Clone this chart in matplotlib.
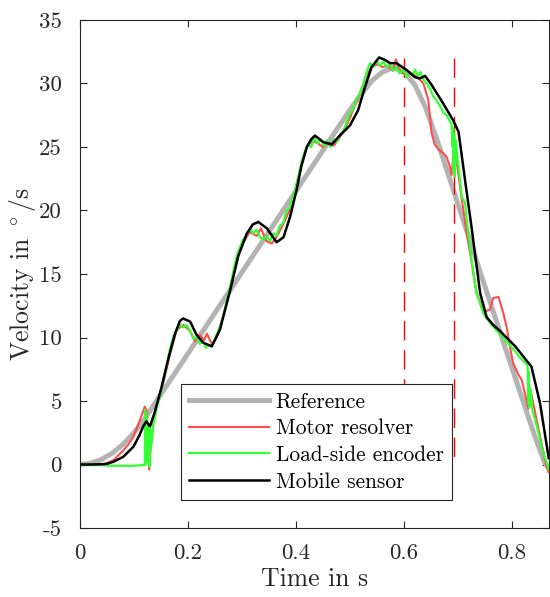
import matplotlib
matplotlib.use('Agg')
import matplotlib.pyplot as plt
from matplotlib.ticker import FuncFormatter, FixedLocator

plt.rcParams['font.family'] = 'serif'
plt.rcParams['font.serif'] = ['cmr10']
plt.rcParams['mathtext.fontset'] = 'cm'
plt.rcParams['axes.unicode_minus'] = False

# Referenz
ref_t = [0, 0.02, 0.04, 0.06, 0.08, 0.10, 0.12, 0.13, 0.14, 0.2, 0.3, 0.4, 0.45, 0.5,
         0.52, 0.54, 0.56, 0.58, 0.60, 0.62, 0.64, 0.66, 0.68, 0.70, 0.75, 0.78, 0.80,
         0.84, 0.86, 0.87]
ref_v = [0, 0.1, 0.4, 0.9, 1.6, 2.5, 3.6, 4.25, 4.9, 8.74, 15.14, 21.54, 24.74, 27.94,
         29.1, 30.2, 30.9, 31.25, 30.9, 29.9, 28.1, 25.7, 23.1, 20.5, 14.0, 10.15, 7.6,
         2.5, 0.2, -0.4]

# Motor-Resolver
mot_t = [0, 0.03, 0.046, 0.062, 0.08, 0.09, 0.099, 0.111, 0.117, 0.120, 0.123, 0.126,
         0.128, 0.130, 0.133, 0.139, 0.146, 0.154, 0.167, 0.179, 0.191, 0.204, 0.213,
         0.222, 0.230, 0.235, 0.244, 0.252, 0.259, 0.275, 0.290, 0.302, 0.315, 0.327,
         0.335, 0.345, 0.355, 0.364, 0.376, 0.389, 0.398, 0.41, 0.42, 0.43, 0.44, 0.45,
         0.46, 0.47, 0.48, 0.49, 0.50, 0.51, 0.52, 0.53, 0.54, 0.55, 0.56, 0.57, 0.58,
         0.585, 0.59, 0.595, 0.605, 0.615, 0.625, 0.636, 0.645, 0.651, 0.657, 0.664,
         0.673, 0.679, 0.685, 0.688, 0.692, 0.697, 0.705, 0.716, 0.725, 0.734, 0.747,
         0.759, 0.765, 0.775, 0.784, 0.790, 0.796, 0.802, 0.812, 0.818, 0.824, 0.830,
         0.833, 0.836, 0.843, 0.852, 0.864, 0.868]
mot_v = [0, 0, 0.05, 0.35, 1.1, 1.6, 2.2, 3.5, 4.2, 4.55, 4.3, 2.0, -0.4, 0.8, 2.2, 4.3,
         5.2, 6.4, 8.75, 10.6, 11.0, 10.5, 9.7, 10.2, 9.8, 10.3, 9.5, 9.9, 10.7, 13.3,
         16.2, 17.5, 18.3, 18.0, 18.6, 17.6, 17.4, 17.9, 18.9, 20.1, 21.5, 23.6, 25.0,
         25.5, 25.3, 25.0, 25.4, 25.1, 25.7, 26.4, 27.3, 28.4, 29.4, 30.6, 31.3, 31.5,
         31.3, 31.4, 31.0, 31.9, 31.2, 30.9, 30.6, 30.8, 30.5, 30.0, 28.7, 26.1, 25.2,
         24.8, 24.5, 24.2, 23.45, 22.8, 24.5, 24.0, 21.5, 18.2, 16.0, 13.6, 12.0, 12.2,
         13.1, 13.2, 11.9, 10.85, 9.3, 8.0, 7.05, 6.65, 5.6, 4.4, 5.1, 5.5, 4.05, 2.2,
         -0.2, -0.6]

# Lastseitiger Encoder
enc_t = [0, 0.02, 0.04, 0.06, 0.08, 0.10, 0.115, 0.120, 0.1205, 0.121, 0.1215, 0.122,
         0.1225, 0.123, 0.124, 0.125, 0.126, 0.127, 0.128, 0.129, 0.130, 0.131, 0.133,
         0.136, 0.139, 0.143, 0.148, 0.154, 0.160, 0.166, 0.173, 0.179, 0.185, 0.191,
         0.197, 0.204, 0.210, 0.216, 0.222, 0.228, 0.233, 0.238, 0.244, 0.250, 0.259,
         0.267, 0.275, 0.283, 0.290, 0.296, 0.302, 0.308, 0.315, 0.321, 0.327, 0.333,
         0.339, 0.345, 0.352, 0.358, 0.364, 0.370, 0.376, 0.382, 0.389, 0.394, 0.398,
         0.404, 0.410, 0.416, 0.422, 0.428, 0.434, 0.440, 0.446, 0.452, 0.458, 0.464,
         0.470, 0.476, 0.482, 0.488, 0.494, 0.500, 0.506, 0.512, 0.518, 0.525, 0.531,
         0.537, 0.543, 0.549, 0.555, 0.562, 0.568, 0.574, 0.580, 0.586, 0.592, 0.599,
         0.605, 0.611, 0.617, 0.620, 0.626, 0.631, 0.636, 0.642, 0.648, 0.654, 0.660,
         0.667, 0.673, 0.679, 0.685, 0.688, 0.690, 0.691, 0.692, 0.693, 0.694, 0.696,
         0.699, 0.701, 0.704, 0.707, 0.713, 0.716, 0.719, 0.725, 0.730, 0.734, 0.740,
         0.747, 0.755, 0.765, 0.775, 0.785, 0.796, 0.806, 0.815, 0.825, 0.829, 0.830,
         0.831, 0.832, 0.834, 0.838, 0.843, 0.849, 0.855, 0.862, 0.868]
enc_v = [0, -0.05, -0.05, -0.1, -0.1, -0.1, -0.05, -0.05, 4.3, 0.3, 3.8, 0.0, 4.0, 0.5,
         3.5, 0.2, 3.0, 0.8, 2.5, -0.2, 2.8, 1.2, 1.9, 3.2, 3.8, 4.6, 5.3, 6.6, 7.7, 9.0,
         10.1, 10.6, 11.0, 10.8, 11.0, 10.5, 9.9, 10.0, 9.5, 9.7, 9.2, 9.4, 9.4, 9.9,
         10.85, 12.0, 13.5, 15.0, 16.4, 17.1, 17.7, 18.0, 18.6, 18.2, 18.5, 17.9, 17.7,
         18.0, 17.6, 18.2, 18.0, 18.8, 19.0, 19.9, 20.3, 21.0, 21.6, 22.6, 23.8, 24.6,
         25.2, 25.0, 25.7, 25.3, 25.6, 25.1, 25.5, 25.0, 25.6, 25.4, 26.0, 26.3, 27.0,
         27.65, 28.0, 28.8, 29.2, 30.0, 30.9, 31.6, 31.3, 31.8, 31.4, 31.7, 31.3, 31.5,
         31.0, 31.3, 30.8, 31.1, 30.5, 30.9, 30.6, 31.1, 30.6, 30.9, 30.3, 30.0, 29.6,
         29.0, 28.7, 28.2, 27.7, 27.5, 27.0, 26.8, 25.0, 26.5, 23.0, 26.0, 22.7, 25.5,
         24.0, 23.45, 22.2, 21.1, 20.6, 19.3, 18.2, 16.1, 14.6, 13.5, 12.8, 11.9, 11.4,
         10.85, 10.4, 9.9, 9.4, 8.9, 8.4, 8.0, 7.7, 4.8, 7.3, 4.5, 6.0, 4.2, 3.5, 2.5,
         1.4, 0.4, -0.4]

# Mobiler Sensor
mob_t = [0, 0.02, 0.04, 0.05, 0.062, 0.08, 0.099, 0.11, 0.117, 0.123, 0.1296, 0.139,
         0.151, 0.164, 0.176, 0.185, 0.191, 0.204, 0.216, 0.228, 0.244, 0.259, 0.278,
         0.293, 0.309, 0.320, 0.330, 0.346, 0.364, 0.377, 0.389, 0.401, 0.41, 0.42, 0.428,
         0.435, 0.45, 0.466, 0.481, 0.5, 0.515, 0.528, 0.540, 0.554, 0.565, 0.574, 0.586,
         0.605, 0.620, 0.629, 0.639, 0.651, 0.673, 0.691, 0.701, 0.713, 0.725, 0.741,
         0.753, 0.765, 0.778, 0.806, 0.836, 0.852, 0.868]
mob_v = [0, 0, 0.02, 0.05, 0.22, 0.6, 1.4, 2.3, 3.0, 3.4, 3.0, 4.2, 6.1, 8.4, 10.3, 11.3,
         11.5, 11.25, 10.2, 9.6, 9.3, 10.6, 13.7, 16.4, 18.2, 18.9, 19.1, 18.6, 17.5,
         17.9, 19.5, 21.6, 23.5, 25.0, 25.6, 25.9, 25.4, 25.2, 25.9, 26.7, 27.9, 29.75,
         31.3, 32.05, 31.85, 31.6, 31.6, 31.06, 30.5, 30.4, 30.6, 29.9, 28.4, 27.1, 26.2,
         22.4, 18.7, 13.5, 11.6, 11.0, 10.5, 9.3, 7.7, 4.8, 0.5]

# Zeitpunkte der gestrichelten Markierungen (von oben nach unten)
mark_t = [0.6, 0.693]
mark_span = [32, 0]

legend_labels = ['Reference', 'Motor resolver', 'Load-side encoder', 'Mobile sensor']

fig = plt.figure(figsize=(5.5, 5.97), dpi=100)
ax = fig.add_axes([80 / 550, 69 / 597, 469 / 550, 508 / 597])

ax.plot(ref_t, ref_v, color='#b3b3b3', lw=3.6, label=legend_labels[0], zorder=2)
ax.vlines(mark_t, mark_span[0], mark_span[1], colors='#ff0000', lw=1.0,
          linestyles=(0, (14, 7)), zorder=3)
ax.plot(mot_t, mot_v, color='#ff4d4d', lw=1.5, label=legend_labels[1], zorder=4)
ax.plot(enc_t, enc_v, color='#33ff33', lw=1.6, label=legend_labels[2], zorder=5)
ax.plot(mob_t, mob_v, color='black', lw=1.8, label=legend_labels[3], zorder=6)

ax.set_xlim(0, 0.8685)
ax.set_ylim(-5, 35)
ax.xaxis.set_major_locator(FixedLocator([0, 0.2, 0.4, 0.6, 0.8]))
ax.yaxis.set_major_locator(FixedLocator(list(range(-5, 36, 5))))
fmt = FuncFormatter(lambda x, pos: '%g' % round(x, 2))
ax.xaxis.set_major_formatter(fmt)
ax.yaxis.set_major_formatter(fmt)
ax.tick_params(direction='in', length=5, width=0.8, top=True, right=True,
               labelsize=16.5, colors='#262626')
ax.tick_params(axis='x', pad=11)
ax.tick_params(axis='y', pad=13)
for s in ax.spines.values():
    s.set_color('#262626')
    s.set_linewidth(0.8)

ax.set_xlabel('Time in s', fontsize=18.5, color='#262626', labelpad=3)
ax.set_ylabel(r'Velocity in $^\circ$/s', fontsize=18.5, color='#262626', labelpad=1)

leg = ax.legend(loc='lower left', bbox_to_anchor=(0.215, 0.055), fontsize=15.4,
                fancybox=False, framealpha=1, edgecolor='#262626', handlelength=3.7,
                handletextpad=0.33, labelspacing=0.33, borderpad=0.4, borderaxespad=0)
leg.get_frame().set_linewidth(0.8)

plt.savefig('out.png', dpi=100)
